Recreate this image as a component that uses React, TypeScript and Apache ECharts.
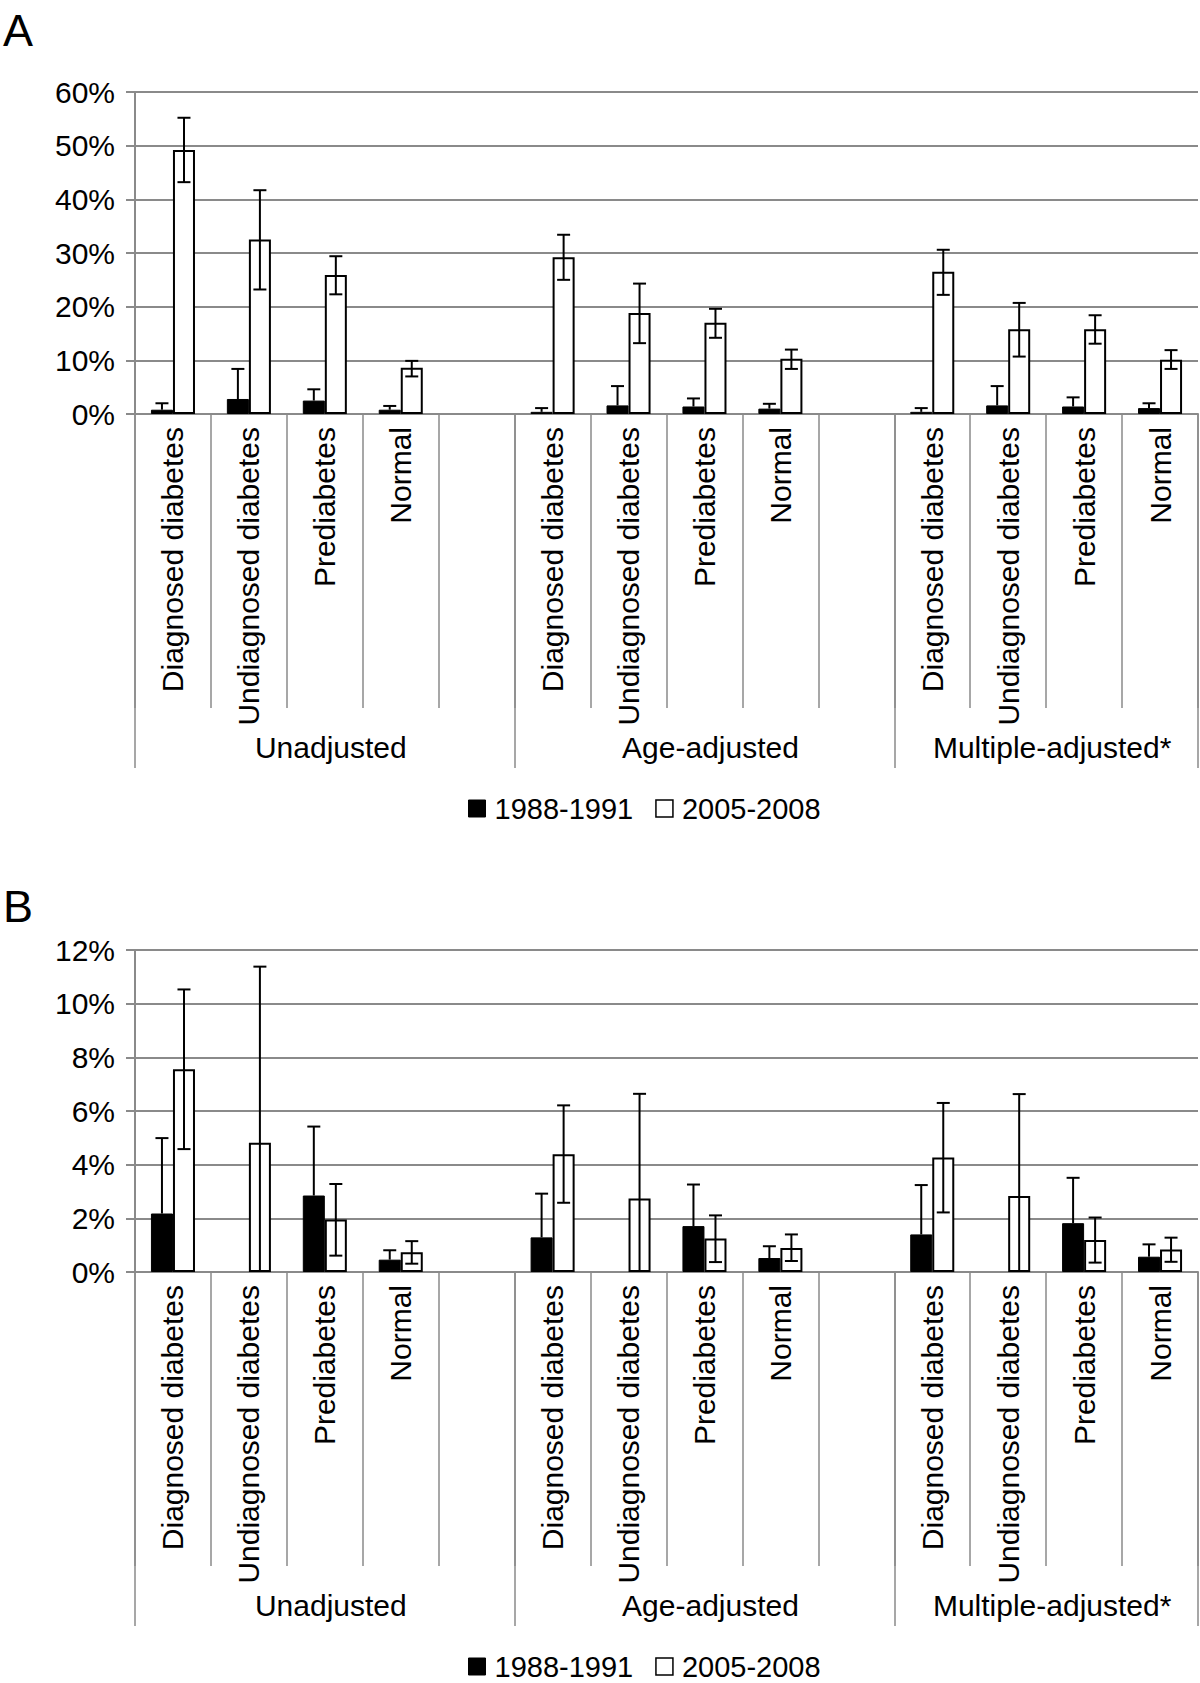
import React, { useEffect, useRef } from 'react';
import * as echarts from 'echarts';

// ---------- DATA ----------
const categories = [
  'Diagnosed diabetes', 'Undiagnosed diabetes', 'Prediabetes', 'Normal', '',
  'Diagnosed diabetes', 'Undiagnosed diabetes', 'Prediabetes', 'Normal', '',
  'Diagnosed diabetes', 'Undiagnosed diabetes', 'Prediabetes', 'Normal',
];
const groups = ['Unadjusted', 'Age-adjusted', 'Multiple-adjusted*'];
const groupSizes = [5, 5, 4];
const seriesNames = ['1988-1991', '2005-2008'];

// Panel A (percent)
const a1988 = [0.8, 2.8, 2.5, 0.8, null, 0.4, 1.6, 1.4, 1.0, null, 0.4, 1.6, 1.4, 1.1];
const a1988Upper = [2.0, 8.4, 4.6, 1.5, null, 1.1, 5.2, 2.9, 1.9, null, 1.1, 5.2, 3.1, 2.0];
const a2005 = [49.2, 32.5, 25.9, 8.6, null, 29.2, 18.8, 17.0, 10.3, null, 26.5, 15.8, 15.8, 10.1];
const a2005Lower = [43.2, 23.2, 22.3, 7.0, null, 25.0, 13.2, 14.2, 8.4, null, 22.2, 10.7, 13.1, 8.4];
const a2005Upper = [55.2, 41.7, 29.4, 9.9, null, 33.4, 24.3, 19.6, 12.0, null, 30.6, 20.7, 18.4, 11.9];
const aTicks = { max: 60, interval: 10 };

// Panel B (percent)
const b1988 = [2.18, null, 2.85, 0.46, null, 1.29, null, 1.71, 0.52, null, 1.40, null, 1.82, 0.57];
const b1988Upper = [4.99, null, 5.42, 0.81, null, 2.92, null, 3.26, 0.96, null, 3.24, null, 3.51, 1.03];
const b2005 = [7.56, 4.82, 1.96, 0.74, null, 4.39, 2.74, 1.25, 0.89, null, 4.27, 2.83, 1.19, 0.84];
const b2005Lower = [4.58, 0, 0.61, 0.31, null, 2.58, 0, 0.37, 0.41, null, 2.22, 0, 0.35, 0.38];
const b2005Upper = [10.53, 11.38, 3.28, 1.15, null, 6.21, 6.64, 2.11, 1.40, null, 6.30, 6.63, 2.03, 1.28];
const bTicks = { max: 12, interval: 2 };

// ---------- STYLE ----------
const FONT = '"Liberation Sans", Arial, Helvetica, sans-serif';
const GRAY = '#8a8a8a';
const FS = 30;
const FS_CAT = 30;
const FS_LEG = 29;
const GAP_PCT = 42;
const BAR_FRAC = (1 - GAP_PCT / 100) / 2;

const groupCenters: number[] = [];
{
  let s = 0;
  groupSizes.forEach((n) => { groupCenters.push(s + n / 2); s += n; });
}

function errSeries(gridIdx: number, rows: (number | null)[][], side: number, lowCap: boolean) {
  const data = rows.filter((r) => r[1] != null && r[2] != null);
  return {
    type: 'custom',
    name: 'err' + gridIdx + side,
    xAxisIndex: gridIdx * 3,
    yAxisIndex: gridIdx,
    z: 10,
    encode: { x: 0, y: [1, 2] },
    data,
    renderItem: (params: any, api: any) => {
      const i = api.value(0);
      const lo = api.value(1);
      const hi = api.value(2);
      const band = api.size([1, 0])[0];
      const dx = side * band * BAR_FRAC / 2;
      const pTop = api.coord([i, hi]);
      const pBot = api.coord([i, lo]);
      const x = pTop[0] + dx;
      const cap = 6.5;
      const st = { stroke: '#000', lineWidth: 2 };
      const children: any[] = [
        { type: 'line', shape: { x1: x, y1: pTop[1], x2: x, y2: pBot[1] }, style: st },
        { type: 'line', shape: { x1: x - cap, y1: pTop[1], x2: x + cap, y2: pTop[1] }, style: st },
      ];
      if (lowCap && lo > 0) {
        children.push({ type: 'line', shape: { x1: x - cap, y1: pBot[1], x2: x + cap, y2: pBot[1] }, style: st });
      }
      return { type: 'group', children };
    },
  };
}

function panel(gridIdx: number, top: number, ticks: { max: number; interval: number },
  v1988: (number | null)[], up1988: (number | null)[], v2005: (number | null)[],
  lo2005: (number | null)[], up2005: (number | null)[]) {
  const grid = { left: 135, right: 2, top, height: 322, outerBoundsMode: 'none', containLabel: false };
  const xAxes = [
    {
      type: 'category', gridIndex: gridIdx, position: 'bottom', offset: 0, data: categories, boundaryGap: true,
      axisLine: { show: true, lineStyle: { color: GRAY, width: 2 } },
      axisTick: { show: true, interval: 0, length: 294, lineStyle: { color: GRAY, width: 1.5 } },
      axisLabel: { interval: 0, rotate: 90, margin: 13, fontSize: FS_CAT, color: '#000', fontFamily: FONT },
      splitLine: { show: false },
    },
    {
      type: 'category', gridIndex: gridIdx, position: 'bottom', offset: 0, data: categories, boundaryGap: true,
      axisLine: { show: false },
      axisTick: {
        show: true,
        interval: (idx: number) => {
          let s = 0;
          for (const n of groupSizes) { if (idx === s) return true; s += n; }
          return false;
        },
        length: 354, lineStyle: { color: GRAY, width: 1.5 },
      },
      axisLabel: { show: false },
      splitLine: { show: false },
    },
    {
      type: 'value', gridIndex: gridIdx, position: 'bottom', offset: 0, min: 0, max: categories.length, interval: 0.5,
      axisLine: { show: false }, axisTick: { show: false }, splitLine: { show: false },
      axisLabel: {
        margin: 318, fontSize: FS, color: '#000', fontFamily: FONT, padding: [0, 0, 0, 12],
        showMinLabel: true, showMaxLabel: true,
        formatter: (v: number) => {
          const k = groupCenters.findIndex((c) => Math.abs(c - v) < 1e-6);
          return k >= 0 ? groups[k] : '';
        },
      },
    },
  ];
  const yAxis = {
    type: 'value', gridIndex: gridIdx, position: 'left', min: 0, max: ticks.max, interval: ticks.interval,
    axisLine: { show: true, lineStyle: { color: GRAY, width: 2 } },
    axisTick: { show: true, length: 9, lineStyle: { color: GRAY, width: 2 } },
    axisLabel: { margin: 20, fontSize: FS, color: '#000', fontFamily: FONT, formatter: (v: number) => v + '%' },
    splitLine: { show: true, lineStyle: { color: GRAY, width: 2 } },
  };
  const series = [
    {
      type: 'bar', name: seriesNames[0], xAxisIndex: gridIdx * 3, yAxisIndex: gridIdx,
      data: v1988, barGap: 0, barCategoryGap: GAP_PCT + '%',
      itemStyle: { color: '#000', borderColor: '#000', borderWidth: 1 },
    },
    {
      type: 'bar', name: seriesNames[1], xAxisIndex: gridIdx * 3, yAxisIndex: gridIdx,
      data: v2005, barGap: 0, barCategoryGap: GAP_PCT + '%',
      itemStyle: { color: '#fff', borderColor: '#000', borderWidth: 2 },
    },
    errSeries(gridIdx, v1988.map((v, i) => [i, v, up1988[i]]), -1, false),
    errSeries(gridIdx, v2005.map((v, i) => [i, lo2005[i], up2005[i]]), 1, true),
  ];
  return { grid, xAxes, yAxis, series };
}

function legendAt(top: number) {
  return {
    top, left: 468, padding: 0, itemWidth: 17, itemHeight: 17, itemGap: 22,
    selectedMode: false, icon: 'rect',
    textStyle: { fontSize: FS_LEG, color: '#000', fontFamily: FONT, padding: [0, 0, 0, 4] },
    data: [
      { name: seriesNames[0], itemStyle: { color: '#000', borderColor: '#000', borderWidth: 1 } },
      { name: seriesNames[1], itemStyle: { color: '#fff', borderColor: '#000', borderWidth: 1.5 } },
    ],
  };
}

export default function App() {
  const ref = useRef<HTMLDivElement>(null);
  useEffect(() => {
    document.body.style.margin = '0';
    if (!ref.current) return;
    const chart = echarts.init(ref.current, undefined, { renderer: 'svg' });
    const pA = panel(0, 92, aTicks, a1988, a1988Upper, a2005, a2005Lower, a2005Upper);
    const pB = panel(1, 950, bTicks, b1988, b1988Upper, b2005, b2005Lower, b2005Upper);
    chart.setOption({
      animation: false,
      backgroundColor: '#fff',
      grid: [pA.grid, pB.grid],
      xAxis: [...pA.xAxes, ...pB.xAxes],
      yAxis: [pA.yAxis, pB.yAxis],
      series: [...pA.series, ...pB.series],
      legend: [legendAt(794), legendAt(1652)],
      graphic: [
        { type: 'text', left: 3, top: 8, style: { text: 'A', fontSize: 45, fill: '#000', fontFamily: FONT } },
        { type: 'text', left: 3, top: 884, style: { text: 'B', fontSize: 45, fill: '#000', fontFamily: FONT } },
      ],
    });
    return () => chart.dispose();
  }, []);
  return <div ref={ref} style={{ width: 1200, height: 1683 }} />;
}
